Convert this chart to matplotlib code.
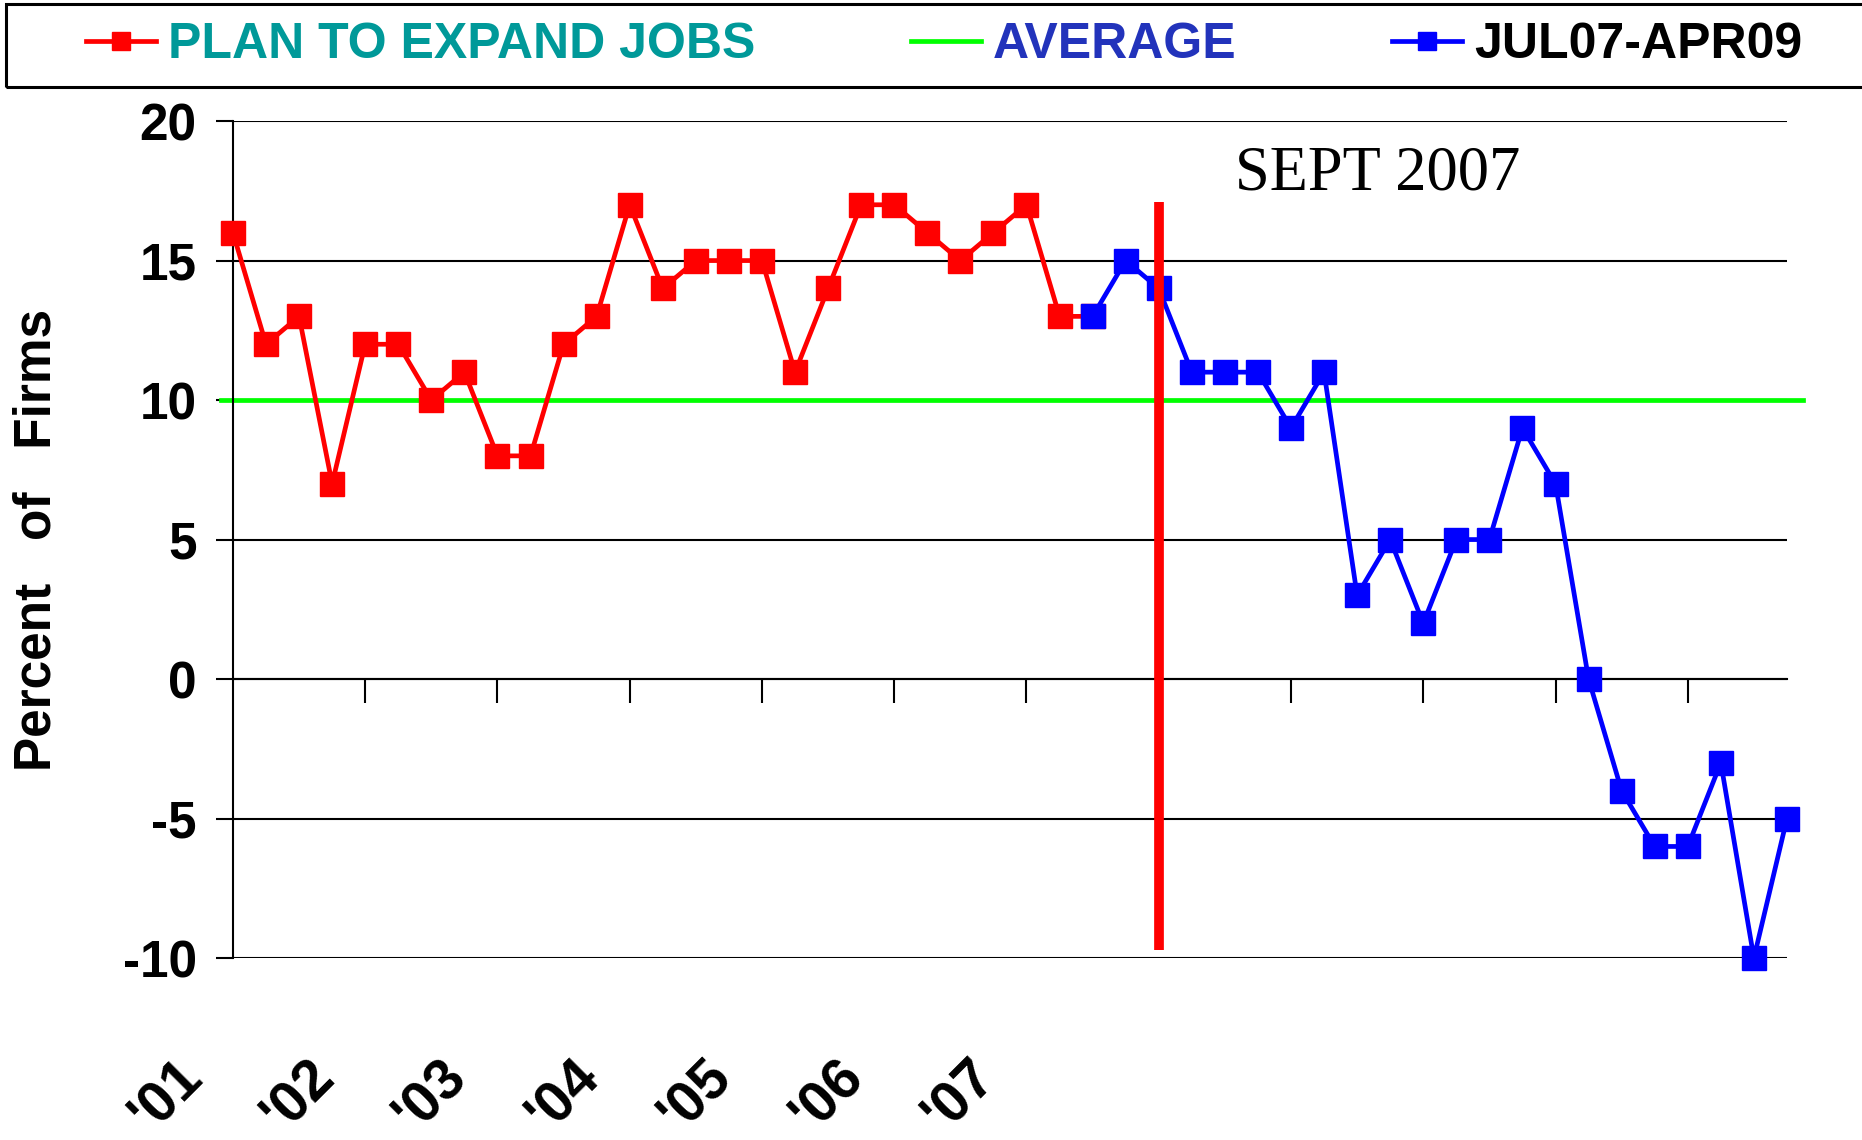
import matplotlib
matplotlib.use("Agg")
import matplotlib.pyplot as plt
from matplotlib.patches import Rectangle

# quarterly survey, share of firms planning to expand jobs
plan_vals = [16, 12, 13, 7, 12, 12, 10, 11, 8, 8, 12, 13, 17, 14, 15, 15,
             15, 11, 14, 17, 17, 16, 15, 16, 17, 13, 13]
recent_vals = [13, 15, 14, 11, 11, 11, 9, 11, 3, 5, 2, 5, 5, 9, 7, 0,
               -4, -6, -6, -3, -10, -5]
recent_start = 26          # JUL07 is the 27th quarter
average = 10
sept07 = 28                # quarter index of the red marker line
years = ["'01", "'02", "'03", "'04", "'05", "'06", "'07"]

plt.rcParams['font.family'] = ['Liberation Sans', 'DejaVu Sans']
plt.rcParams['font.weight'] = 'bold'
plt.rcParams['axes.unicode_minus'] = False

fig = plt.figure(figsize=(18.62, 11.40), dpi=100)
ax = fig.add_axes([0.1251, 0.1596, 0.8346, 0.7342])

x_plan = list(range(len(plan_vals)))
x_recent = list(range(recent_start, recent_start + len(recent_vals)))

for y in range(-10, 21, 5):
    ax.axhline(y, color='black', lw=1.5, zorder=1)

avg_line = ax.axhline(average, xmin=-0.008, xmax=1.01, color='#00ff00', lw=3.4,
                      clip_on=False, zorder=2)
l1, = ax.plot(x_plan, plan_vals, color='#ff0000', lw=3.4, marker='s', ms=17,
              mec='#ff0000', zorder=3, clip_on=False)
l2, = ax.plot(x_recent, recent_vals, color='#0000ff', lw=3.4, marker='s', ms=17,
              mec='#0000ff', zorder=4, clip_on=False)
ax.vlines(sept07, -9.7, 17.1, color='#ff0000', lw=7, zorder=5)

ax.text(sept07 + 2.3, 18.1, "SEPT 2007", family='Liberation Serif',
        fontweight='normal', fontsize=45, va='center', ha='left')

ax.set_xlim(0, 47)
ax.set_ylim(-10, 20)
for s in ['top', 'right']:
    ax.spines[s].set_visible(False)
ax.spines['bottom'].set_position(('data', 0))
ax.spines['bottom'].set_linewidth(1.5)
ax.spines['left'].set_linewidth(1.5)
ax.set_xticks(range(4, 45, 4))
ax.set_xticklabels([])
ax.tick_params(axis='x', direction='out', length=17, width=1.5)
ax.set_yticks(range(-10, 21, 5))
ax.tick_params(axis='y', direction='out', length=12, width=1.5, pad=14,
               labelsize=37)

for i, yr in enumerate(years):
    ax.text(-2 + 4 * i, -0.165, yr, transform=ax.get_xaxis_transform(),
            rotation=45, ha='center', va='center', fontsize=41,
            fontweight='bold', clip_on=False)

ax.set_ylabel("Percent   of   Firms", fontsize=37, fontweight='bold')
ax.yaxis.set_label_coords(-0.110, 0.5)

# legend box across the top
fig.patches.append(Rectangle((0.0032, 0.9237), 1.0, 0.0728, transform=fig.transFigure,
                             fill=False, edgecolor='black', lw=2.2))
fig.legend([l1, avg_line, l2], ["PLAN TO EXPAND JOBS", "AVERAGE", "JUL07-APR09"],
           loc='center left', bbox_to_anchor=(0.046, 0.9605), ncol=3,
           frameon=False, fontsize=36, handlelength=1.4, handletextpad=0.25,
           columnspacing=3.1, borderpad=0, borderaxespad=0, markerscale=0.75,
           labelcolor=['#009999', '#2233bb', 'black'])

fig.savefig("out.png", dpi=100)
